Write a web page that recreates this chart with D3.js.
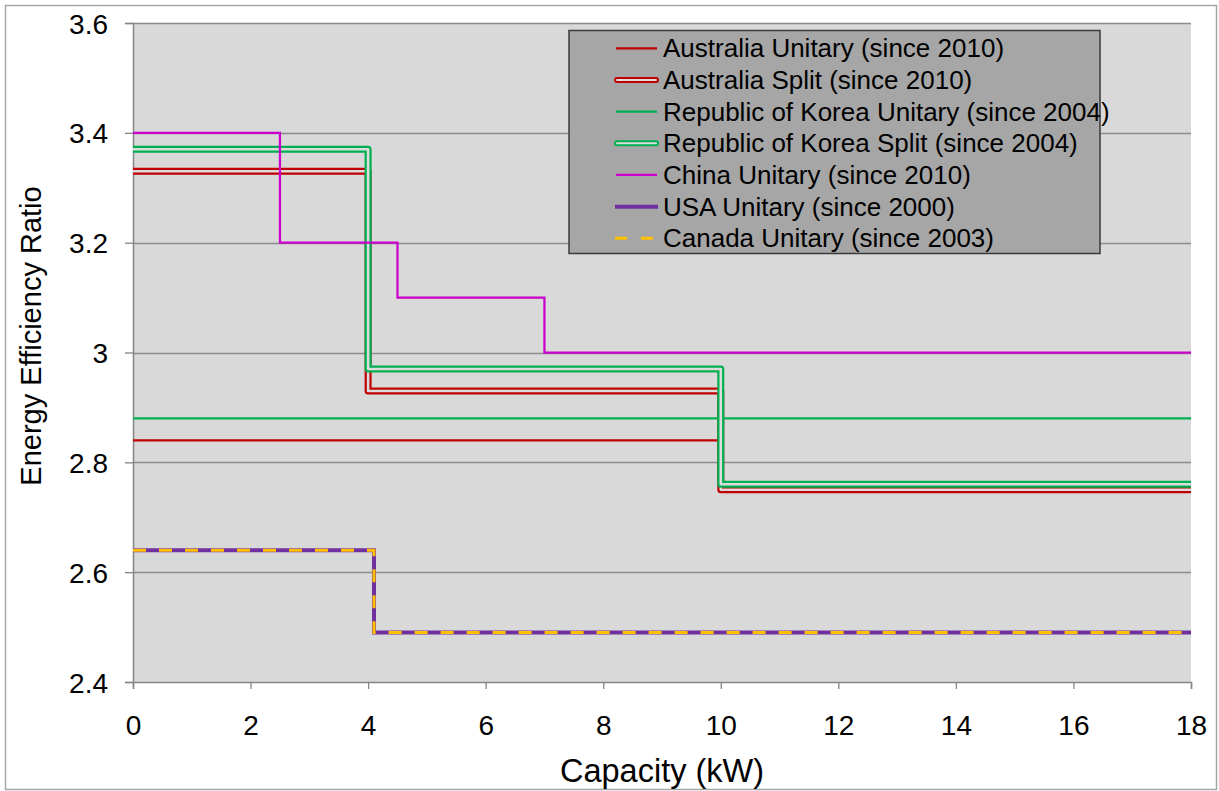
<!DOCTYPE html>
<html>
<head>
<meta charset="utf-8">
<script src="https://cdn.jsdelivr.net/npm/d3@7"></script>
<style>
  html, body { margin: 0; padding: 0; background: #fff; }
  svg { display: block; }
  text { font-family: "Liberation Sans", Arial, sans-serif; fill: #000; }
</style>
</head>
<body>
<svg id="chart" width="1219" height="791"></svg>
<script>
// ---- Data ----
const seriesNames = [
  "Australia Unitary (since 2010)",
  "Australia Split (since 2010)",
  "Republic of Korea Unitary (since 2004)",
  "Republic of Korea Split (since 2004)",
  "China Unitary (since 2010)",
  "USA Unitary (since 2000)",
  "Canada Unitary (since 2003)"
];
const ausUnitaryKW = [0, 10, 18];
const ausUnitaryEER = [2.84, 2.75, 2.75];
const ausSplitKW = [0, 4, 10, 18];
const ausSplitEER = [3.33, 2.93, 2.75, 2.75];
const korUnitaryKW = [0, 18];
const korUnitaryEER = [2.88, 2.88];
const korSplitKW = [0, 4, 10, 18];
const korSplitEER = [3.37, 2.97, 2.76, 2.76];
const chinaKW = [0, 2.5, 4.5, 7, 18];
const chinaEER = [3.4, 3.2, 3.1, 3.0, 3.0];
const usaKW = [0, 4.1, 18];
const usaEER = [2.64, 2.49, 2.49];
const canadaKW = [0, 4.1, 18];
const canadaEER = [2.64, 2.49, 2.49];

const xTicks = [0, 2, 4, 6, 8, 10, 12, 14, 16, 18];
const yTicks = [2.4, 2.6, 2.8, 3.0, 3.2, 3.4, 3.6];

// ---- Styles ----
const styles = [
  { color: "#c00000", type: "thin" },
  { color: "#c00000", type: "double" },
  { color: "#00b050", type: "thin" },
  { color: "#00b050", type: "double" },
  { color: "#cc00cc", type: "thin" },
  { color: "#7030a0", type: "thick" },
  { color: "#ffc000", type: "dash" }
];
const seriesData = [
  [ausUnitaryKW, ausUnitaryEER],
  [ausSplitKW, ausSplitEER],
  [korUnitaryKW, korUnitaryEER],
  [korSplitKW, korSplitEER],
  [chinaKW, chinaEER],
  [usaKW, usaEER],
  [canadaKW, canadaEER]
].map(([xs, ys]) => xs.map((x, i) => ({ x, y: ys[i] })));

const svg = d3.select("#chart");
const L = 133, R = 1191, T = 23, B = 682;
const x = d3.scaleLinear().domain([0, 18]).range([L, R]);
const y = d3.scaleLinear().domain([2.4, 3.6]).range([B, T]);

// outer border
svg.append("rect").attr("x", 5.5).attr("y", 5.5).attr("width", 1211).attr("height", 784)
  .attr("fill", "#fff").attr("stroke", "#a6a6a6").attr("stroke-width", 1.5);

// plot background
svg.append("rect").attr("x", L).attr("y", T).attr("width", R - L).attr("height", B - T)
  .attr("fill", "#d9d9d9");

// gridlines
svg.append("g").selectAll("line").data(yTicks.filter(d => d > 2.4)).join("line")
  .attr("x1", L).attr("x2", R)
  .attr("y1", d => Math.round(y(d)) + 0.5).attr("y2", d => Math.round(y(d)) + 0.5)
  .attr("stroke", "#8c8c8c").attr("stroke-width", 1.3);

// axes
const yAxis = d3.axisLeft(y).tickValues(yTicks).tickSize(8).tickPadding(17)
  .tickFormat(d => d3.format("")(+d.toFixed(1)));
const gy = svg.append("g").attr("transform", `translate(${L},0)`).call(yAxis);
gy.select(".domain").attr("stroke", "#868686").attr("stroke-width", 1.5);
gy.selectAll(".tick line").attr("stroke", "#868686").attr("stroke-width", 1.3);
gy.selectAll(".tick text").attr("font-size", 28).attr("dy", "0.36em")
  .style("font-family", "'Liberation Sans', Arial, sans-serif").attr("fill", "#000");

const xAxis = d3.axisBottom(x).tickValues(xTicks).tickSize(7).tickPadding(26);
const gx = svg.append("g").attr("transform", `translate(0,${B})`).call(xAxis);
gx.select(".domain").attr("stroke", "#868686").attr("stroke-width", 1.5);
gx.selectAll(".tick line").attr("stroke", "#868686").attr("stroke-width", 1.3);
gx.selectAll(".tick text").attr("font-size", 28).attr("dy", "0.71em")
  .style("font-family", "'Liberation Sans', Arial, sans-serif").attr("fill", "#000");

// axis titles
svg.append("text").attr("transform", "translate(41,336) rotate(-90)")
  .attr("text-anchor", "middle").attr("font-size", 29).text("Energy Efficiency Ratio");
svg.append("text").attr("x", (L + R) / 2).attr("y", 782)
  .attr("text-anchor", "middle").attr("font-size", 32.5).text("Capacity (kW)");

// lines
const line = d3.line().x(d => x(d.x)).y(d => y(d.y)).curve(d3.curveStepAfter);
const gl = svg.append("g").attr("fill", "none");
seriesData.forEach((data, i) => {
  const s = styles[i];
  const p = line(data);
  if (s.type === "thin") {
    gl.append("path").attr("d", p).attr("stroke", s.color).attr("stroke-width", 2.25);
  } else if (s.type === "double") {
    gl.append("path").attr("d", p).attr("stroke", s.color).attr("stroke-width", 7)
      .attr("stroke-linejoin", "round");
    gl.append("path").attr("d", p).attr("stroke", "#dcdcdc").attr("stroke-width", 2.6)
      .attr("stroke-linejoin", "round");
  } else if (s.type === "thick") {
    gl.append("path").attr("d", p).attr("stroke", s.color).attr("stroke-width", 4);
  } else if (s.type === "dash") {
    gl.append("path").attr("d", p).attr("stroke", s.color).attr("stroke-width", 3)
      .attr("stroke-dasharray", "13,13");
  }
});

// legend
const lg = svg.append("g");
lg.append("rect").attr("x", 569).attr("y", 30.5).attr("width", 531).attr("height", 223)
  .attr("fill", "#a6a6a6").attr("stroke", "#3a3a3a").attr("stroke-width", 1.5);
const rowY = i => 48.3 + i * 31.67;
seriesNames.forEach((name, i) => {
  const s = styles[i];
  const yy = rowY(i);
  const g = lg.append("g");
  if (s.type === "thin") {
    g.append("line").attr("x1", 616).attr("x2", 657).attr("y1", yy).attr("y2", yy)
      .attr("stroke", s.color).attr("stroke-width", 2.25);
  } else if (s.type === "double") {
    g.append("line").attr("x1", 617).attr("x2", 656).attr("y1", yy).attr("y2", yy)
      .attr("stroke", s.color).attr("stroke-width", 6).attr("stroke-linecap", "round");
    g.append("line").attr("x1", 617).attr("x2", 656).attr("y1", yy).attr("y2", yy)
      .attr("stroke", "#dcdcdc").attr("stroke-width", 2).attr("stroke-linecap", "round");
  } else if (s.type === "thick") {
    g.append("line").attr("x1", 615).attr("x2", 658).attr("y1", yy).attr("y2", yy)
      .attr("stroke", s.color).attr("stroke-width", 4);
  } else {
    g.append("line").attr("x1", 615).attr("x2", 658).attr("y1", yy).attr("y2", yy)
      .attr("stroke", s.color).attr("stroke-width", 3).attr("stroke-dasharray", "12,14");
  }
  g.append("text").attr("x", 663).attr("y", yy).attr("dy", "0.35em")
    .attr("font-size", 26).text(name);
});
</script>
</body>
</html>
